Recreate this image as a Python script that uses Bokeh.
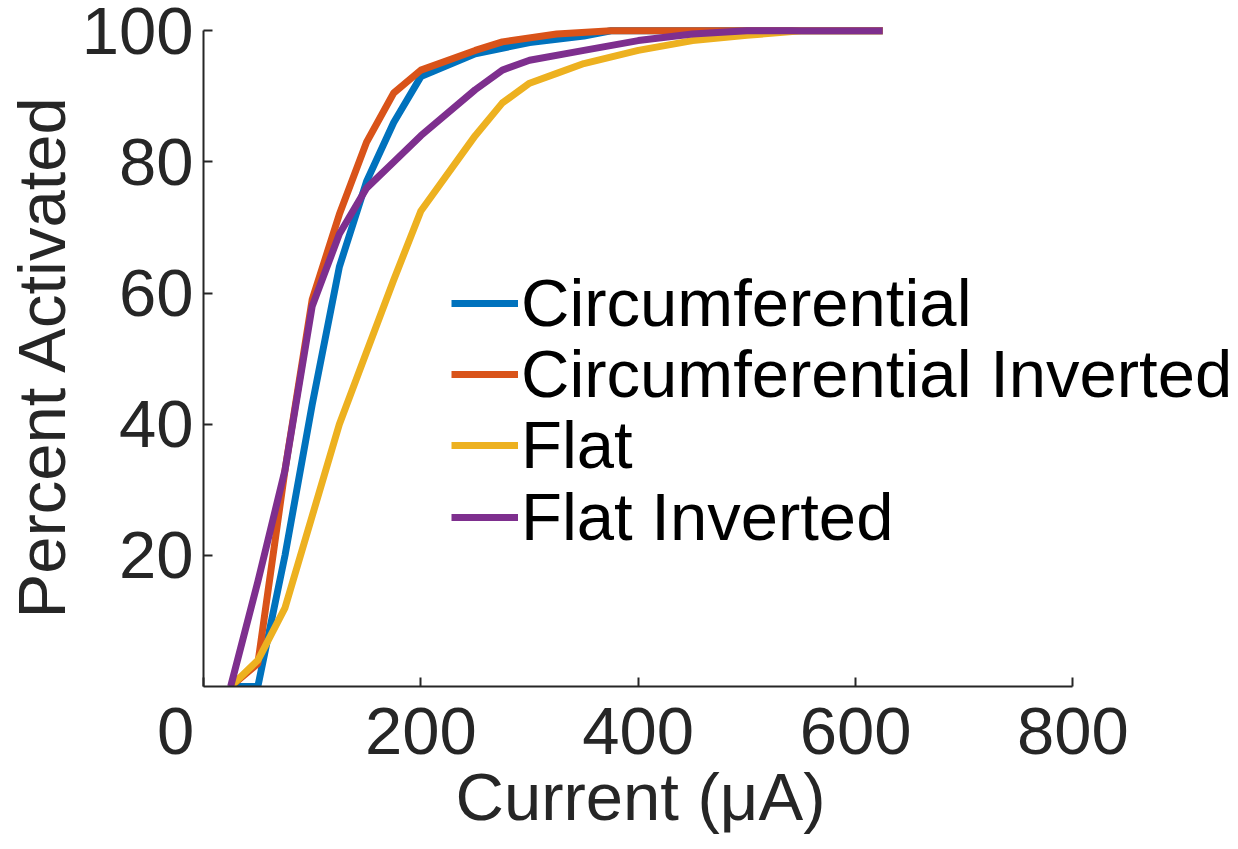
from bokeh.plotting import figure
from bokeh.models import Range1d, Legend, LegendItem, FixedTicker, Title
from bokeh.embed import file_html
from bokeh.resources import INLINE

# Data
circ_x = [25, 50, 75, 100, 125, 150, 175, 200, 250, 300, 350, 375, 400, 500, 625]
circ_y = [0, 0, 20, 43, 64, 77, 86, 93, 96.5, 98.2, 99.2, 100, 100, 100, 100]

circinv_x = [25, 50, 75, 100, 125, 150, 175, 200, 250, 275, 325, 375, 400, 500, 625]
circinv_y = [0, 3.5, 33, 59, 72, 83, 90.5, 94, 97, 98.3, 99.5, 100, 100, 100, 100]

flat_x = [25, 50, 75, 100, 125, 150, 175, 200, 250, 275, 300, 325, 350, 400, 450, 500, 550, 625]
flat_y = [0, 4, 12, 26, 40, 51, 62, 72.5, 84, 89, 92, 93.5, 95, 97, 98.5, 99.3, 100, 100]

flatinv_x = [25, 50, 75, 100, 125, 150, 175, 200, 250, 275, 300, 350, 400, 450, 500, 625]
flatinv_y = [0, 16, 33, 58, 69, 76, 80, 84, 91, 94, 95.5, 97, 98.5, 99.5, 100, 100]

series_names = ["Circumferential", "Circumferential Inverted", "Flat", "Flat Inverted"]
series_colors = ["#0072BD", "#D95319", "#EDB120", "#7E2F8E"]

x_ticks = [0, 200, 400, 600, 800]
y_ticks = [20, 40, 60, 80, 100]
x_label = "Current (\u03bcA)"
y_label = "Percent Activated"

FONT = "Liberation Sans"
TXT = "#262626"
FS = "67px"

p = figure(width=1238, height=849, output_backend="svg", toolbar_location=None,
           x_range=Range1d(0, 952.3), y_range=Range1d(0, 100.8),
           min_border_left=200, min_border_right=0, min_border_top=25,
           min_border_bottom=163)
p.outline_line_color = None
p.grid.visible = False
p.background_fill_color = "white"
p.border_fill_color = "white"

renderers = []
for xs, ys, c in zip([circ_x, circinv_x, flat_x, flatinv_x],
                     [circ_y, circinv_y, flat_y, flatinv_y], series_colors):
    r = p.line(xs, ys, line_color=c, line_width=7, line_join="round")
    renderers.append(r)

for ax in (p.xaxis[0], p.yaxis[0]):
    ax.axis_line_color = TXT
    ax.axis_line_width = 2
    ax.major_tick_line_color = TXT
    ax.major_tick_line_width = 2
    ax.major_tick_in = 9
    ax.major_tick_out = 0
    ax.minor_tick_line_color = None
    ax.major_label_text_font = FONT
    ax.major_label_text_font_size = FS
    ax.major_label_text_color = TXT
    ax.axis_label_text_font = FONT
    ax.axis_label_text_font_size = FS
    ax.axis_label_text_color = TXT
    ax.axis_label_text_font_style = "normal"

p.xaxis.ticker = FixedTicker(ticks=x_ticks)
p.yaxis.ticker = FixedTicker(ticks=y_ticks)
p.xaxis.major_label_overrides = {0: "0\u00a0\u00a0\u00a0"}
p.xaxis.bounds = (0, 800)
p.yaxis.bounds = (0, 100)
p.yaxis.axis_label = y_label
p.xaxis.major_label_standoff = 6
p.yaxis.major_label_standoff = 10
p.yaxis.axis_label_standoff = 0

xtitle = Title(text=x_label, align="left", offset=252, standoff=-28,
               text_font=FONT, text_font_size=FS, text_font_style="normal",
               text_color=TXT)
p.add_layout(xtitle, "below")

# one single-row legend per series so the row pitch matches the reference
legend_y = [345, 274, 203, 131]
for n, r, ly in zip(series_names, renderers, legend_y):
    lg = Legend(items=[LegendItem(label=n, renderers=[r])], location=(248, ly),
                padding=0, margin=0, spacing=0, glyph_width=67, glyph_height=40,
                label_standoff=3, label_text_font=FONT, label_text_font_size=FS,
                label_text_color="black", border_line_alpha=0,
                background_fill_alpha=0)
    p.add_layout(lg)

open("out.html", "w").write(file_html(p, INLINE))
